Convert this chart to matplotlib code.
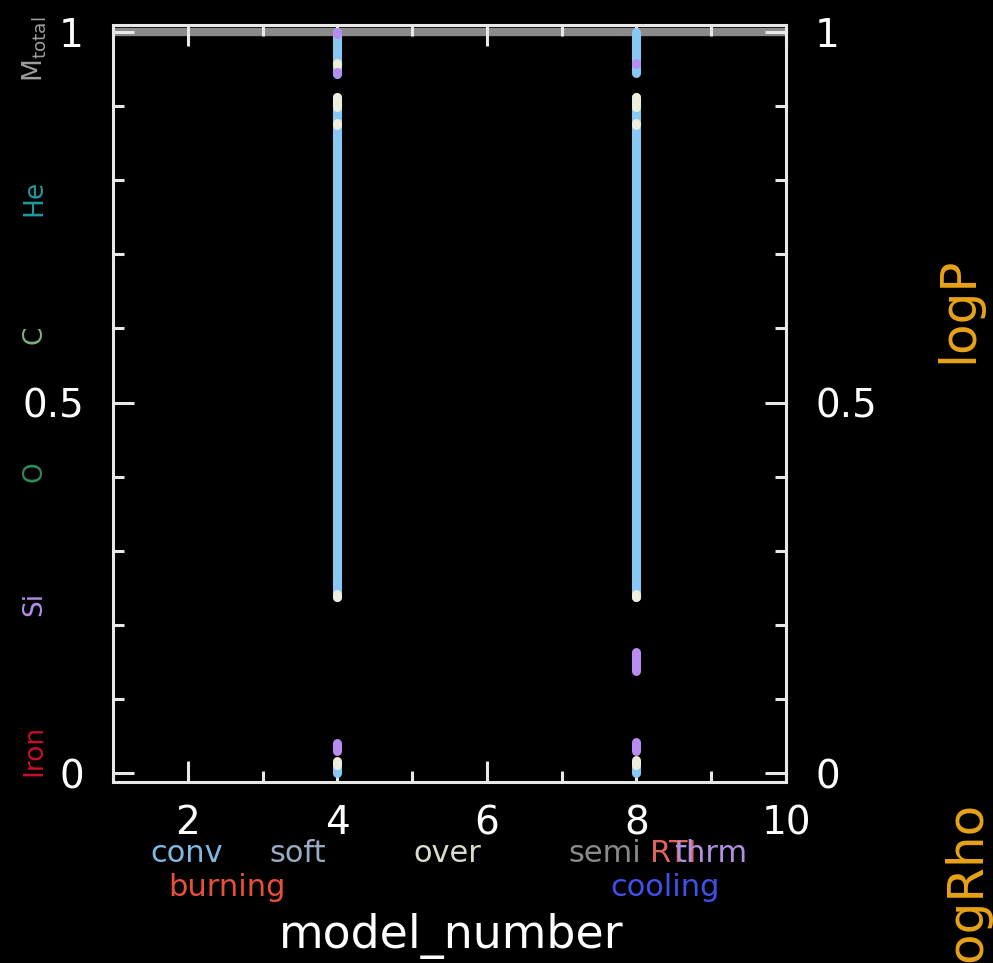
import matplotlib
matplotlib.use("Agg")
import matplotlib.pyplot as plt
from matplotlib.ticker import MultipleLocator

# Mixing regions per model (mass coordinate, bottom -> top)
conv_model = [4, 4, 4, 8, 8, 8]
conv_bot = [0.237, 0.943, 0.000, 0.237, 0.945, 0.000]
conv_top = [0.912, 1.000, 0.008, 0.912, 1.000, 0.008]

over_model = [4, 4, 4, 4, 4, 8, 8, 8, 8]
over_bot = [0.899, 0.875, 0.956, 0.011, 0.238, 0.899, 0.875, 0.011, 0.238]
over_top = [0.912, 0.877, 0.958, 0.017, 0.241, 0.912, 0.877, 0.018, 0.241]

thrm_model = [4, 4, 4, 8, 8, 8]
thrm_bot = [0.030, 0.944, 0.997, 0.030, 0.138, 0.957]
thrm_top = [0.041, 0.946, 1.000, 0.042, 0.163, 0.958]

m_total = 1.0

# Axis labels / annotations
xlabel = "model_number"
x_ticks = [2, 4, 6, 8, 10]
y_ticks = [0, 0.5, 1]
y_ticklabels = ["0", "0.5", "1"]

iso_names = ["M$_{\\mathrm{total}}$", "He", "C", "O", "Si", "Iron"]
iso_ypos = [0.976, 0.776, 0.592, 0.407, 0.228, 0.030]
iso_colors = ["#a0a0a0", "#1e9aa0", "#7faf84", "#2e8b5a", "#b48ee6", "#c8102e"]

legend_row1 = ["conv", "soft", "over", "semi", "RTI", "thrm"]
legend_row1_colors = ["#80b8e2", "#9aaac2", "#dcdcca", "#8a8a8a", "#e0645a", "#b090e0"]
legend_row1_x = [187, 298, 447, 605, 673, 711]
legend_row2 = ["burning", "cooling"]
legend_row2_colors = ["#e8503a", "#4050e8"]
legend_row2_x = [227, 665]

W, H = 993, 963
fig = plt.figure(figsize=(W / 100, H / 100), dpi=100, facecolor="black")
ax = fig.add_axes([113 / W, 1 - 782 / H, (786 - 113) / W, (782 - 25) / H])
ax.set_facecolor("black")
ax.set_xlim(1, 10)
ax.set_ylim(-0.012, 1.0094)

fg = "#e8e8e8"
for s in ax.spines.values():
    s.set_color(fg)
    s.set_linewidth(2.2)
    s.set_zorder(5)

# total mass line
ax.plot([1, 10], [m_total, m_total], color="#8a8a8a", lw=6, zorder=1,
        solid_capstyle="butt")

col_lw = 6.5


def draw_segments(models, bots, tops, color, z):
    for m, b, t in zip(models, bots, tops):
        ax.plot([m, m], [b, t], color=color, lw=col_lw,
                solid_capstyle="round", zorder=z)


draw_segments(conv_model, conv_bot, conv_top, "#87c9f4", 2)
draw_segments(over_model, over_bot, over_top, "#eeeedc", 3)
draw_segments(thrm_model, thrm_bot, thrm_top, "#b88cf0", 4)

# ticks
ax.xaxis.set_major_locator(MultipleLocator(2))
ax.xaxis.set_minor_locator(MultipleLocator(1))
ax.yaxis.set_major_locator(MultipleLocator(0.5))
ax.yaxis.set_minor_locator(MultipleLocator(0.1))
ax.set_xticks(x_ticks)
ax.set_yticks(y_ticks)
ax.set_yticklabels(y_ticklabels)
ax.tick_params(which="both", direction="in", top=True, right=True,
               colors=fg, width=2.2)
ax.tick_params(which="major", length=15)
ax.tick_params(which="minor", length=8)
ax.tick_params(axis="x", which="major", labelsize=28, pad=16,
               labelcolor="white")
ax.tick_params(axis="y", which="major", labelsize=28, pad=21,
               labelcolor="white", labelright=True)

# x axis title
fig.text(451 / W, 1 - 948 / H, xlabel, color="white", fontsize=33,
         ha="center", va="baseline")

# composition labels along the left
for name, yv, c in zip(iso_names, iso_ypos, iso_colors):
    ax.text(-0.117, yv, name, color=c, fontsize=19, rotation=90,
            ha="center", va="center",
            transform=ax.get_yaxis_transform())

# right-side quantity labels
fig.text(958 / W, 1 - 310 / H, "logP", color="#e8a317", fontsize=36,
         rotation=90, ha="center", va="center")
fig.text(965 / W, 1 - 886 / H, "logRho", color="#e8a317", fontsize=36,
         rotation=90, ha="center", va="center")

# mixing / burning legend
for t, c, xp in zip(legend_row1, legend_row1_colors, legend_row1_x):
    fig.text(xp / W, 1 - 862 / H, t, color=c, fontsize=22,
             ha="center", va="baseline")
for t, c, xp in zip(legend_row2, legend_row2_colors, legend_row2_x):
    fig.text(xp / W, 1 - 896 / H, t, color=c, fontsize=22,
             ha="center", va="baseline")

fig.savefig("out.png", dpi=100, facecolor="black")
